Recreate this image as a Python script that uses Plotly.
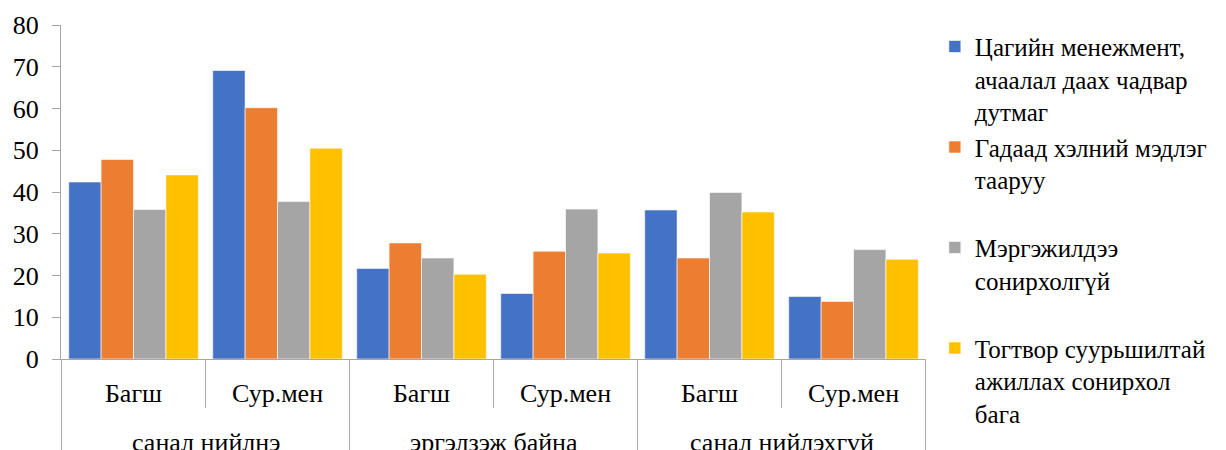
import plotly.graph_objects as go

# outer / inner categories
groups = ["санал нийлнэ", "санал нийлнэ", "эргэлзэж байна", "эргэлзэж байна",
          "санал нийлэхгүй", "санал нийлэхгүй"]
roles = ["Багш", "Сур.мен", "Багш", "Сур.мен", "Багш", "Сур.мен"]

series_names = [
    "Цагийн менежмент,<br>ачаалал даах чадвар<br>дутмаг",
    "Гадаад хэлний мэдлэг<br>тааруу<br> ",
    "Мэргэжилдээ<br>сонирхолгүй<br> ",
    "Тогтвор суурьшилтай<br>ажиллах сонирхол<br>бага",
]
time_mgmt = [42.4, 69.1, 21.7, 15.7, 35.7, 15.0]
language = [47.8, 60.2, 27.8, 25.8, 24.2, 13.8]
interest = [35.8, 37.7, 24.2, 35.9, 39.9, 26.2]
stability = [44.1, 50.5, 20.3, 25.4, 35.2, 23.9]

colors = ["#4472C4", "#ED7D31", "#A5A5A5", "#FFC000"]
values = [time_mgmt, language, interest, stability]
axis_grey = "#A6A6A6"
serif = "Liberation Serif"

# unique category keys, shown with the inner label only
keys = [g + "|" + r for g, r in zip(groups, roles)]

fig = go.Figure()
for i, (name, vals) in enumerate(zip(series_names, values)):
    fig.add_trace(go.Bar(
        x=keys,
        y=vals,
        name=name,
        legendgroup=str(i),
        marker=dict(color=colors[i], line=dict(color="white", width=0.6)),
    ))

# separators: short ones inside a group, long ones between groups
for i in range(len(keys) + 1):
    inside = 0 < i < len(keys) and groups[i] == groups[i - 1]
    fig.add_shape(type="line", xref="x", yref="paper",
                  x0=i - 0.5, x1=i - 0.5, y0=0, y1=-0.147 if inside else -0.3,
                  line=dict(color=axis_grey, width=1))

# outer group labels centred under their pair of categories
seen = []
for g in groups:
    if g not in seen:
        seen.append(g)
for g in seen:
    idx = [i for i, gg in enumerate(groups) if gg == g]
    fig.add_annotation(x=sum(idx) / len(idx), y=-0.25, xref="x", yref="paper",
                       text=g, showarrow=False, yanchor="middle",
                       font=dict(family=serif, size=26, color="black"))

fig.update_layout(
    width=1226,
    height=450,
    margin=dict(l=53, r=308, t=17, b=99),
    paper_bgcolor="white",
    plot_bgcolor="white",
    font=dict(family=serif, size=26, color="black"),
    barmode="group",
    bargap=0.1,
    bargroupgap=0,
    showlegend=True,
    legend=dict(
        x=0.756, y=0.965, xref="container", yref="container",
        xanchor="left", yanchor="top",
        valign="top", tracegroupgap=0,
        font=dict(family=serif, size=25),
        itemwidth=30, maxheight=440,
    ),
)
fig.update_yaxes(
    range=[0, 80], dtick=10, automargin=False,
    showline=True, linecolor=axis_grey, linewidth=1,
    ticks="outside", ticklen=8, tickcolor=axis_grey,
    showgrid=False, zeroline=False, ticklabelstandoff=8,
)
fig.update_xaxes(
    automargin=False, type="category",
    tickvals=keys, ticktext=roles,
    showline=True, linecolor=axis_grey, linewidth=1,
    ticks="", ticklabelstandoff=11,
)

fig.write_html("out.html")
